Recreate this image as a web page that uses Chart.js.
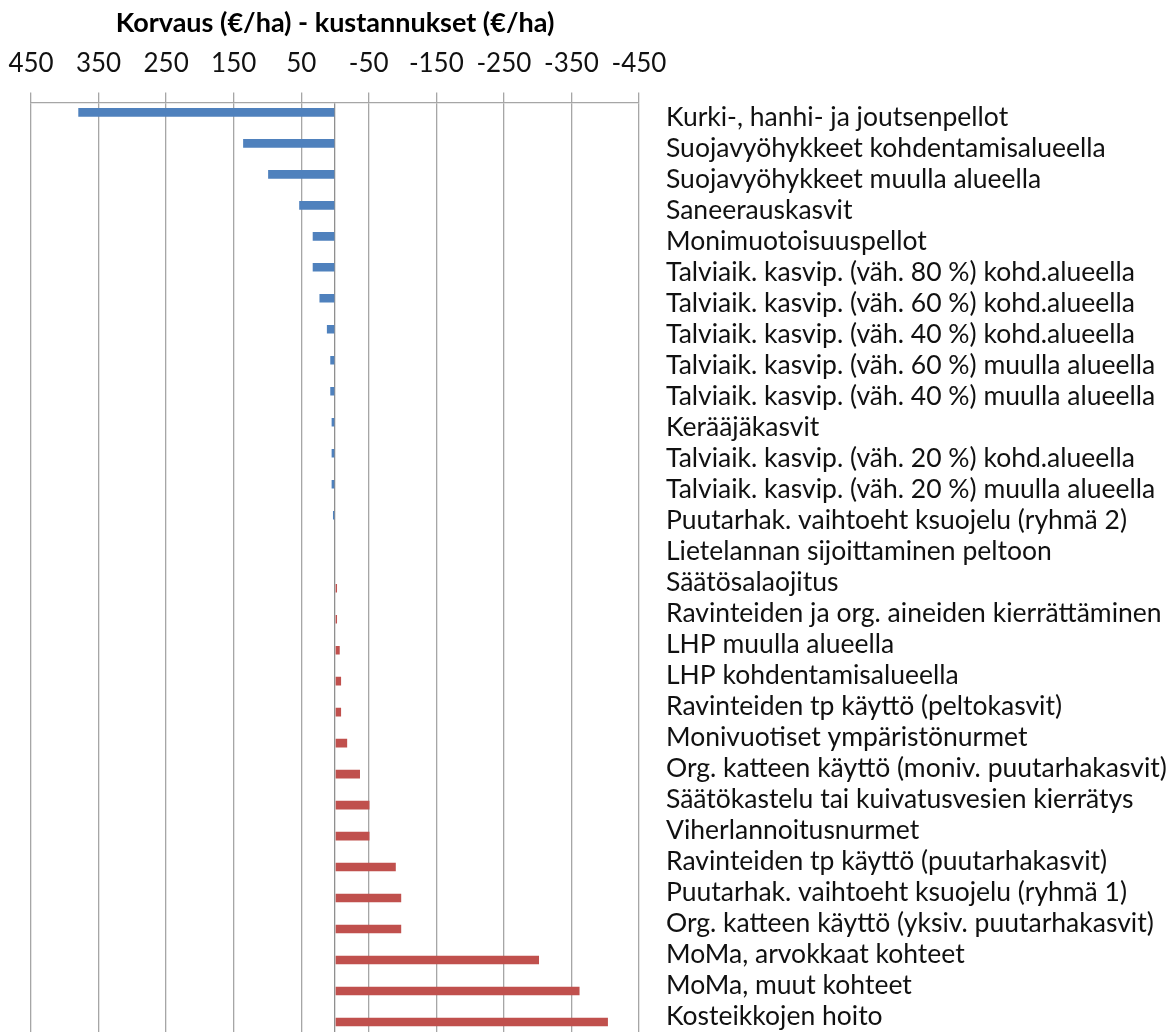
<!DOCTYPE html>
<html>
<head>
<meta charset="utf-8">
<script src="https://cdn.jsdelivr.net/npm/chart.js@4.4.1/dist/chart.umd.min.js"></script>
<style>
  html, body { margin: 0; padding: 0; background: #ffffff; }
  #wrap { width: 1173px; height: 1032px; position: relative; }
</style>
</head>
<body>
<div id="wrap"><canvas id="chart"></canvas></div>
<script>
// Toimenpiteet, järjestyksessä ylhäältä alas
const categories = [
  'Kurki-, hanhi- ja joutsenpellot',
  'Suojavyöhykkeet kohdentamisalueella',
  'Suojavyöhykkeet muulla alueella',
  'Saneerauskasvit',
  'Monimuotoisuuspellot',
  'Talviaik. kasvip. (väh. 80 %) kohd.alueella',
  'Talviaik. kasvip. (väh. 60 %) kohd.alueella',
  'Talviaik. kasvip. (väh. 40 %) kohd.alueella',
  'Talviaik. kasvip. (väh. 60 %) muulla alueella',
  'Talviaik. kasvip. (väh. 40 %) muulla alueella',
  'Kerääjäkasvit',
  'Talviaik. kasvip. (väh. 20 %) kohd.alueella',
  'Talviaik. kasvip. (väh. 20 %) muulla alueella',
  'Puutarhak. vaihtoeht ksuojelu (ryhmä 2)',
  'Lietelannan sijoittaminen peltoon',
  'Säätösalaojitus',
  'Ravinteiden ja org. aineiden kierrättäminen',
  'LHP muulla alueella',
  'LHP kohdentamisalueella',
  'Ravinteiden tp käyttö (peltokasvit)',
  'Monivuotiset ympäristönurmet',
  'Org. katteen käyttö (moniv. puutarhakasvit)',
  'Säätökastelu tai kuivatusvesien kierrätys',
  'Viherlannoitusnurmet',
  'Ravinteiden tp käyttö (puutarhakasvit)',
  'Puutarhak. vaihtoeht ksuojelu (ryhmä 1)',
  'Org. katteen käyttö (yksiv. puutarhakasvit)',
  'MoMa, arvokkaat kohteet',
  'MoMa, muut kohteet',
  'Kosteikkojen hoito'
];

// Korvaus miinus kustannukset, €/ha
const values = [
  380, 136, 99, 53, 33, 33, 23, 12, 7, 7,
  5, 5, 5, 3, 0, -3, -3, -7, -9, -9,
  -18, -37, -51, -51, -90, -98, -98, -302, -362, -404
];

const tickValues = [450, 350, 250, 150, 50, -50, -150, -250, -350, -450];
const chartTitle = 'Korvaus (€/ha) - kustannukset (€/ha)';

// Positiiviset (sininen) ja negatiiviset (punainen) erotellaan omiksi sarjoikseen
const positiveValues = values.map(v => (v > 0 ? v : null));
const negativeValues = values.map(v => (v < 0 ? v : null));

const FONT = 'Lato, "Open Sans", sans-serif';
const GRID = '#a6a6a6';

new Chart(document.getElementById('chart'), {
  type: 'bar',
  data: {
    labels: categories,
    datasets: [
      {
        label: 'Ylijäämä',
        data: positiveValues,
        backgroundColor: '#4f81bd',
        borderWidth: 0,
        categoryPercentage: 0.71,
        barPercentage: 0.78
      },
      {
        label: 'Alijäämä',
        data: negativeValues,
        backgroundColor: '#c0504d',
        borderWidth: 0,
        categoryPercentage: 0.71,
        barPercentage: 0.78
      }
    ]
  },
  options: {
    indexAxis: 'y',
    responsive: true,
    maintainAspectRatio: false,
    animation: false,
    layout: { padding: { left: 31, right: 0, top: 0, bottom: 0 } },
    plugins: {
      legend: { display: false },
      tooltip: { enabled: false },
      title: {
        display: true,
        text: chartTitle,
        fullSize: false,
        color: '#000000',
        font: { family: FONT, size: 27, weight: 'bold' },
        padding: { top: 7, bottom: 10 }
      }
    },
    scales: {
      x: {
        type: 'linear',
        position: 'top',
        reverse: true,
        min: -450,
        max: 450,
        afterBuildTicks: scale => {
          scale.ticks = tickValues.concat([0]).map(v => ({ value: v }));
        },
        afterFit: scale => {
          scale.height = 53;
          scale.paddingLeft = 0;
          scale.paddingRight = 0;
        },
        ticks: {
          autoSkip: false,
          maxRotation: 0,
          padding: 13,
          color: '#111111',
          font: { family: FONT, size: 26 },
          callback: v => (v === 0 ? '' : String(v))
        },
        grid: {
          drawTicks: true,
          tickLength: 10,
          lineWidth: 1.3,
          color: ctx => (ctx.tick && ctx.tick.value === 0 ? '#8f8f8f' : GRID),
          tickColor: ctx => (ctx.tick && ctx.tick.value === 0 ? 'rgba(0,0,0,0)' : GRID)
        },
        border: { display: true, color: GRID, width: 1.3 }
      },
      y: {
        position: 'right',
        grid: { display: false, drawTicks: false },
        border: { display: false },
        afterFit: scale => {
          scale.width = 534;
          scale.paddingTop = 0;
          scale.paddingBottom = 0;
        },
        ticks: {
          autoSkip: false,
          padding: 27,
          color: '#111111',
          font: { family: FONT, size: 26.5 }
        }
      }
    }
  }
});
</script>
</body>
</html>
